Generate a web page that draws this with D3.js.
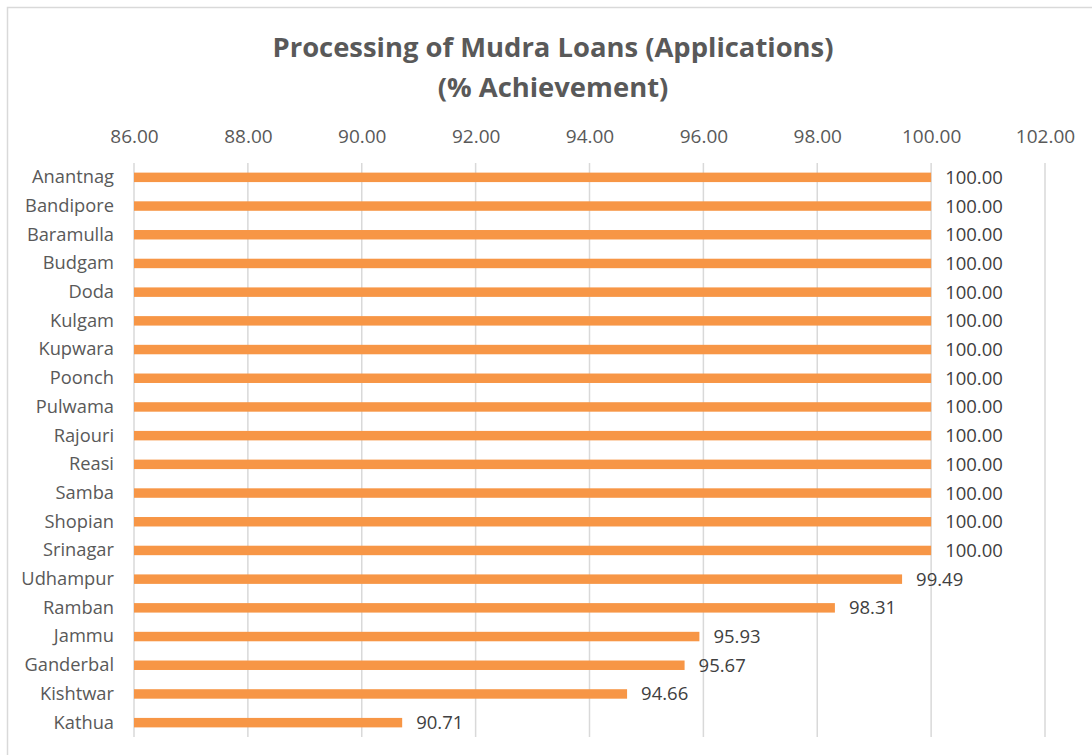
<!DOCTYPE html>
<html>
<head>
<meta charset="utf-8">
<script src="https://cdn.jsdelivr.net/npm/d3@7"></script>
<style>
  body { margin: 0; background: #fff; }
  svg { display: block; font-family: "Open Sans", sans-serif; }
</style>
</head>
<body>
<div id="chart"></div>
<script>
var districts = ['Anantnag', 'Bandipore', 'Baramulla', 'Budgam', 'Doda', 'Kulgam', 'Kupwara',
  'Poonch', 'Pulwama', 'Rajouri', 'Reasi', 'Samba', 'Shopian', 'Srinagar',
  'Udhampur', 'Ramban', 'Jammu', 'Ganderbal', 'Kishtwar', 'Kathua']
var achievement = [100, 100, 100, 100, 100, 100, 100, 100, 100, 100, 100, 100, 100, 100,
  99.49, 98.31, 95.93, 95.67, 94.66, 90.71]
var tickValues = [86, 88, 90, 92, 94, 96, 98, 100, 102]
var titleLines = ['Processing of Mudra Loans (Applications)', '(% Achievement)']

var W = 1092, H = 755
var margin = { top: 163, left: 134, right: W - 1045, bottom: H - 737 }

var svg = d3.select('#chart').append('svg')
  .attr('width', W)
  .attr('height', H)

// chart border (only top/left visible in frame)
svg.append('rect')
  .attr('x', 7.5).attr('y', 7.5)
  .attr('width', W + 20).attr('height', H + 20)
  .attr('fill', 'none')
  .attr('stroke', '#d9d9d9')
  .attr('stroke-width', 1.5)

var x = d3.scaleLinear()
  .domain([86, 102])
  .range([margin.left, W - margin.right])

var y = d3.scaleBand()
  .domain(districts)
  .range([margin.top, H - margin.bottom])
  .paddingInner(0.67)
  .paddingOuter(0.335)

// gridlines
svg.append('g')
  .selectAll('line')
  .data(tickValues)
  .enter()
  .append('line')
  .attr('x1', function(d) { return x(d) })
  .attr('x2', function(d) { return x(d) })
  .attr('y1', margin.top)
  .attr('y2', H - margin.bottom)
  .attr('stroke', '#d9d9d9')
  .attr('stroke-width', 1.5)

// top axis labels
var xAxis = d3.axisTop(x)
  .tickValues(tickValues)
  .tickFormat(d3.format('.2f'))
  .tickSize(0)
  .tickPadding(0)

var xg = svg.append('g')
  .attr('transform', 'translate(0,' + 143 + ')')
  .call(xAxis)
xg.select('.domain').remove()
xg.selectAll('text')
  .attr('font-size', '19px')
  .attr('font-family', '"Open Sans", sans-serif')
  .attr('fill', '#595959')

// category labels
var yAxis = d3.axisLeft(y).tickSize(0).tickPadding(20)
var yg = svg.append('g')
  .attr('transform', 'translate(' + margin.left + ',0)')
  .call(yAxis)
yg.select('.domain').remove()
yg.selectAll('text')
  .attr('font-size', '18.3px')
  .attr('font-family', '"Open Sans", sans-serif')
  .attr('fill', '#595959')

// bars
svg.append('g')
  .selectAll('rect')
  .data(districts)
  .enter()
  .append('rect')
  .attr('x', x(86))
  .attr('y', function(d) { return y(d) })
  .attr('height', y.bandwidth())
  .attr('width', function(d, i) { return x(achievement[i]) - x(86) })
  .attr('fill', '#f79646')

// value labels
svg.append('g')
  .selectAll('text')
  .data(districts)
  .enter()
  .append('text')
  .attr('x', function(d, i) { return x(achievement[i]) + 14 })
  .attr('y', function(d) { return y(d) + y.bandwidth() / 2 })
  .attr('dy', '0.35em')
  .attr('font-size', '18.5px')
  .attr('fill', '#404040')
  .text(function(d, i) { return achievement[i].toFixed(2) })

// title
svg.append('g')
  .selectAll('text')
  .data(titleLines)
  .enter()
  .append('text')
  .attr('x', 553)
  .attr('y', function(d, i) { return 57 + i * 40 })
  .attr('text-anchor', 'middle')
  .attr('font-size', '27.4px')
  .attr('font-weight', 'bold')
  .attr('fill', '#595959')
  .text(function(d) { return d })
</script>
</body>
</html>
